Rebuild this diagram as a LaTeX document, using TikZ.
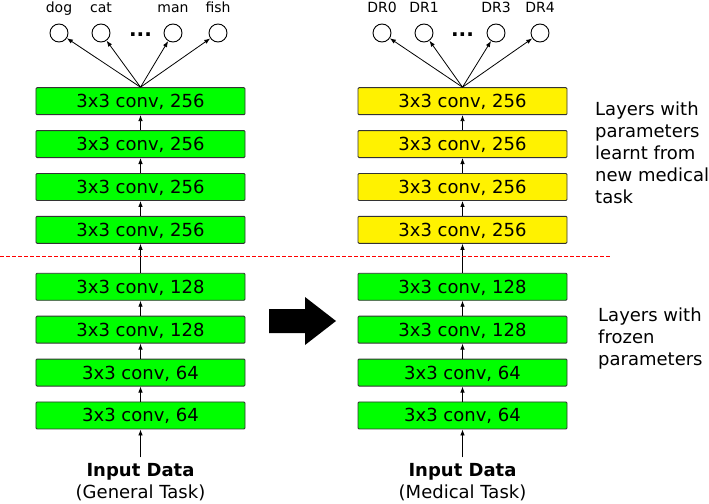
\documentclass[tikz,border=0pt]{standalone}
\usepackage{fontspec}
\setmainfont{DejaVu Sans}
\usetikzlibrary{positioning,matrix,arrows.meta}
\tikzset{
layermat/.style={
  matrix of nodes,
  anchor=north,
  inner sep=0pt,
  row sep=15pt,
  nodes={draw=black!80, fill=green, rounded corners=1pt, line width=0.9pt,
         minimum width=209pt, minimum height=27pt,
         text height=13pt, text depth=0pt, inner sep=0pt,
         font=\fontsize{18}{22}\selectfont}
},
outnode/.style={draw, circle, line width=0.9pt, minimum size=18pt, inner sep=0pt},
clslbl/.style={font=\fontsize{14}{16}\selectfont, text height=10pt, text depth=3pt, inner sep=0pt},
flow/.style={line width=0.8pt, -{Latex[length=6pt,width=4.5pt]}},
inlbl/.style={align=center, inner sep=6pt, font=\fontsize{18}{22}\selectfont},
note/.style={align=left, anchor=north west, inner sep=0pt, font=\fontsize{18}{22}\selectfont}
}

\begin{document}
\begin{tikzpicture}[x=1pt, y=-1pt]
  \useasboundingbox (0,0) rectangle (709,503);

  % general task network
  \matrix[layermat] at (140.5,87) (General) {
          |(g8)| 3x3 conv, 256 \\
          |(g7)| 3x3 conv, 256 \\
          |(g6)| 3x3 conv, 256 \\
          |(g5)| 3x3 conv, 256 \\[14pt]
          |(g4)| 3x3 conv, 128 \\
          |(g3)| 3x3 conv, 128 \\
          |(g2)| 3x3 conv, 64 \\
          |(g1)| 3x3 conv, 64 \\
  };

  % medical task network
  \matrix[layermat] at (462.5,87) (Medical) {
          |[fill=yellow](m8)| 3x3 conv, 256 \\
          |[fill=yellow](m7)| 3x3 conv, 256 \\
          |[fill=yellow](m6)| 3x3 conv, 256 \\
          |[fill=yellow](m5)| 3x3 conv, 256 \\[14pt]
          |(m4)| 3x3 conv, 128 \\
          |(m3)| 3x3 conv, 128 \\
          |(m2)| 3x3 conv, 64 \\
          |(m1)| 3x3 conv, 64 \\
  };

  \foreach \a/\b in {1/2,2/3,3/4,4/5,5/6,6/7,7/8} {
    \draw[flow] (g\a) -- (g\b);
    \draw[flow] (m\a) -- (m\b);
  }

  % outputs
  \foreach \n/\dx/\t in {1/-81.5/dog, 2/-39.5/cat, 3/32.5/man, 4/77.5/fish} {
    \node[outnode] (gc\n) at (140.5+\dx,33) {};
    \node[clslbl, above=7.5pt of gc\n] (gl\n) {\t};
    \draw[flow] (g8.north) -- (gc\n);
  }
  \foreach \n/\dx/\t in {1/-80.5/DR0, 2/-38.5/DR1, 3/33.5/DR3, 4/77.5/DR4} {
    \node[outnode] (mc\n) at (462.5+\dx,33) {};
    \node[clslbl, above=7.5pt of mc\n] (ml\n) {\t};
    \draw[flow] (m8.north) -- (mc\n);
  }
  \node[anchor=base, inner sep=0pt, font=\bfseries\fontsize{20}{20}\selectfont] (gdots) at (140.5,36.5) {...};
  \node[anchor=base, inner sep=0pt, font=\bfseries\fontsize{20}{20}\selectfont] (mdots) at (462.5,36.5) {...};

  % inputs
  \node[inlbl, below=28pt of g1] (gin) {\textbf{Input Data}\\(General Task)};
  \node[inlbl, below=28pt of m1] (min) {\textbf{Input Data}\\(Medical Task)};
  \draw[flow] (gin) -- (g1);
  \draw[flow] (min) -- (m1);

  % split and transfer
  \draw[red, line width=0.7pt, dash pattern=on 4pt off 2pt] (0,256) -- (610,256);
  \fill (269,309) -- (305,309) -- (305,297) -- (336,321) -- (305,345) -- (305,333) -- (269,333) -- cycle;

  \node[note] (learnt) at (595,101.5) {Layers with\\parameters\\learnt from\\new medical\\task};
  \node[note] (frozen) at (598,308) {Layers with\\frozen\\parameters};
\end{tikzpicture}
\end{document}
